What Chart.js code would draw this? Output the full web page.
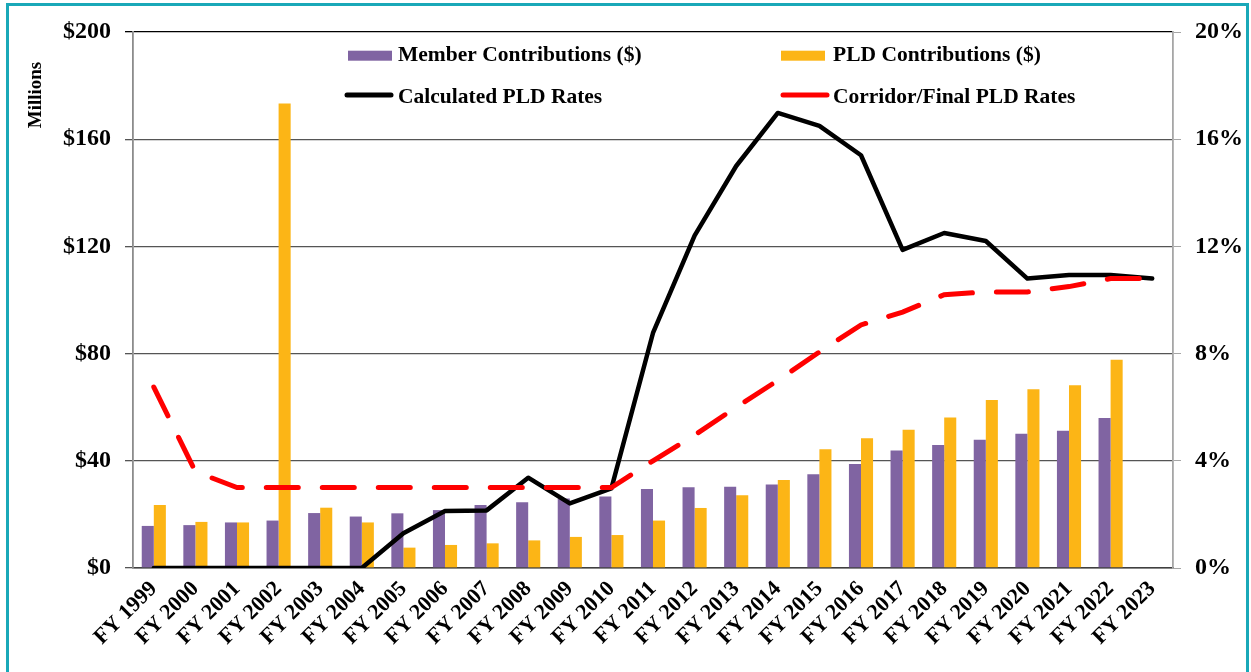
<!DOCTYPE html>
<html>
<head>
<meta charset="utf-8">
<script src="https://cdn.jsdelivr.net/npm/chart.js@4.4.1/dist/chart.umd.min.js"></script>
<style>
html, body { margin: 0; padding: 0; background: #fff; overflow: hidden; }
#wrap { position: relative; width: 1251px; height: 672px; }
#frame { position: absolute; left: 6px; top: 3px; width: 1243px; height: 720px; border: 3px solid #19a8b8; box-sizing: border-box; pointer-events: none; }
</style>
</head>
<body>
<div id="wrap">
    <canvas id="chartPLD" width="1251" height="672"></canvas>
    <div id="frame"></div>
</div>
<script>
const anios = ["FY 1999", "FY 2000", "FY 2001", "FY 2002", "FY 2003", "FY 2004", "FY 2005", "FY 2006",
    "FY 2007", "FY 2008", "FY 2009", "FY 2010", "FY 2011", "FY 2012", "FY 2013", "FY 2014", "FY 2015",
    "FY 2016", "FY 2017", "FY 2018", "FY 2019", "FY 2020", "FY 2021", "FY 2022", "FY 2023"];

// millones de dolares
const aportesMiembros = [15.7, 16.0, 17.0, 17.7, 20.5, 19.2, 20.4, 21.6, 23.5, 24.5, 25.9, 26.7, 29.5,
    30.1, 30.3, 31.2, 35.0, 38.8, 43.8, 45.9, 47.9, 50.1, 51.2, 56.0, null];
const aportesPLD = [23.5, 17.2, 17.0, 173.3, 22.5, 17.0, 7.6, 8.6, 9.2, 10.3, 11.6, 12.3, 17.7,
    22.4, 27.1, 32.8, 44.3, 48.4, 51.6, 56.2, 62.7, 66.7, 68.2, 77.7, null];

// porcentajes
const tasaCalculada = [0, 0, 0, 0, 0, 0, 1.3, 2.13, 2.15, 3.37, 2.41, 2.97, 8.77, 12.4, 15.0, 16.98,
    16.5, 15.4, 11.87, 12.5, 12.2, 10.8, 10.93, 10.93, 10.8];
const tasaCorredor = [6.75, 3.6, 3.0, 3.0, 3.0, 3.0, 3.0, 3.0, 3.0, 3.0, 3.0, 3.0, 4.0, 4.96, 6.0, 7.0,
    8.06, 9.07, 9.55, 10.2, 10.3, 10.3, 10.5, 10.8, 10.8];

const ticksDolares = [0, 40, 80, 120, 160, 200];
const ticksPorc = [0, 4, 8, 12, 16, 20];

const MORADO = "#8064a2";
const NARANJA = "#fcb516";
const fuente = "'Liberation Serif', 'Times New Roman', serif";

// leyenda en 2x2 dentro del grafico + titulo "Millions"
const leyendaPLD = {
    id: "leyendaPLD",
    afterDraw(chart) {
        const ctx = chart.ctx;
        const items = [
            { texto: "Member Contributions ($)", tipo: "bar", color: MORADO, x: 348, y: 55.7, base: 61 },
            { texto: "PLD Contributions ($)", tipo: "bar", color: NARANJA, x: 781, y: 55.7, base: 61 },
            { texto: "Calculated PLD Rates", tipo: "line", color: "#000", x: 345, y: 95, base: 103 },
            { texto: "Corridor/Final PLD Rates", tipo: "line", color: "#ff0000", x: 781, y: 95, base: 103 }
        ];
        ctx.save();
        ctx.font = "bold 21.5px " + fuente;
        ctx.textBaseline = "alphabetic";
        items.forEach(it => {
            if (it.tipo === "bar") {
                ctx.fillStyle = it.color;
                ctx.fillRect(it.x, it.y - 5, 44, 10);
            } else {
                ctx.strokeStyle = it.color;
                ctx.lineWidth = 5;
                ctx.lineCap = "round";
                ctx.beginPath();
                ctx.moveTo(it.x + 2, it.y);
                ctx.lineTo(it.x + 46, it.y);
                ctx.stroke();
            }
            ctx.fillStyle = "#000";
            ctx.fillText(it.texto, 398 + (it.x > 500 ? 435 : 0), it.base);
        });

        ctx.translate(41, 95);
        ctx.rotate(-Math.PI / 2);
        ctx.textAlign = "center";
        ctx.font = "bold 19px " + fuente;
        ctx.fillText("Millions", 0, 0);
        ctx.restore();
    }
};

const ctx = document.getElementById("chartPLD").getContext("2d");

new Chart(ctx, {
    type: "bar",
    data: {
        labels: anios,
        datasets: [
            {
                type: "line",
                label: "Corridor/Final PLD Rates",
                data: tasaCorredor,
                yAxisID: "y1",
                borderColor: "#ff0000",
                borderWidth: 5,
                borderDash: [32, 24],
                borderCapStyle: "round",
                pointRadius: 0,
                tension: 0,
                order: 0
            },
            {
                type: "line",
                label: "Calculated PLD Rates",
                data: tasaCalculada,
                yAxisID: "y1",
                borderColor: "#000",
                borderWidth: 4.5,
                borderCapStyle: "round",
                borderJoinStyle: "round",
                pointRadius: 0,
                tension: 0,
                order: 1
            },
            {
                label: "Member Contributions ($)",
                data: aportesMiembros,
                yAxisID: "y",
                backgroundColor: MORADO,
                categoryPercentage: 0.58,
                barPercentage: 1,
                order: 2
            },
            {
                label: "PLD Contributions ($)",
                data: aportesPLD,
                yAxisID: "y",
                backgroundColor: NARANJA,
                categoryPercentage: 0.58,
                barPercentage: 1,
                order: 3
            }
        ]
    },
    options: {
        responsive: false,
        animation: false,
        layout: { padding: { top: 32, left: 0, right: 0, bottom: 0 } },
        plugins: {
            legend: { display: false },
            tooltip: { enabled: false }
        },
        scales: {
            x: {
                grid: { display: false },
                border: { display: true, color: "#404040", width: 1.5 },
                ticks: {
                    color: "#000",
                    font: { family: fuente, size: 22, weight: "bold" },
                    minRotation: 45,
                    maxRotation: 45,
                    padding: 0,
                    autoSkip: false
                },
                afterFit(scale) { scale.height = 104; }
            },
            y: {
                position: "left",
                min: 0,
                max: 200,
                afterBuildTicks(scale) { scale.ticks = ticksDolares.map(v => ({ value: v })); },
                grid: {
                    color: c => c.tick && c.tick.value === 200 ? "#000" : "#555",
                    lineWidth: 1.3,
                    tickLength: 8,
                    drawTicks: true
                },
                border: { display: true, color: "#8c8c8c", width: 1.8 },
                ticks: {
                    color: "#000",
                    padding: 14,
                    font: { family: fuente, size: 24, weight: "bold" },
                    callback: v => "$" + v
                },
                afterFit(scale) { scale.width = 133; }
            },
            y1: {
                position: "right",
                min: 0,
                max: 20,
                afterBuildTicks(scale) { scale.ticks = ticksPorc.map(v => ({ value: v })); },
                grid: { drawOnChartArea: false, color: "#a6a6a6", tickLength: 8 },
                border: { display: true, color: "#a6a6a6", width: 1.8 },
                ticks: {
                    color: "#000",
                    padding: 14,
                    font: { family: fuente, size: 24, weight: "bold" },
                    callback: v => v + "%"
                },
                afterFit(scale) { scale.width = 78; }
            }
        }
    },
    plugins: [leyendaPLD]
});
</script>
</body>
</html>
